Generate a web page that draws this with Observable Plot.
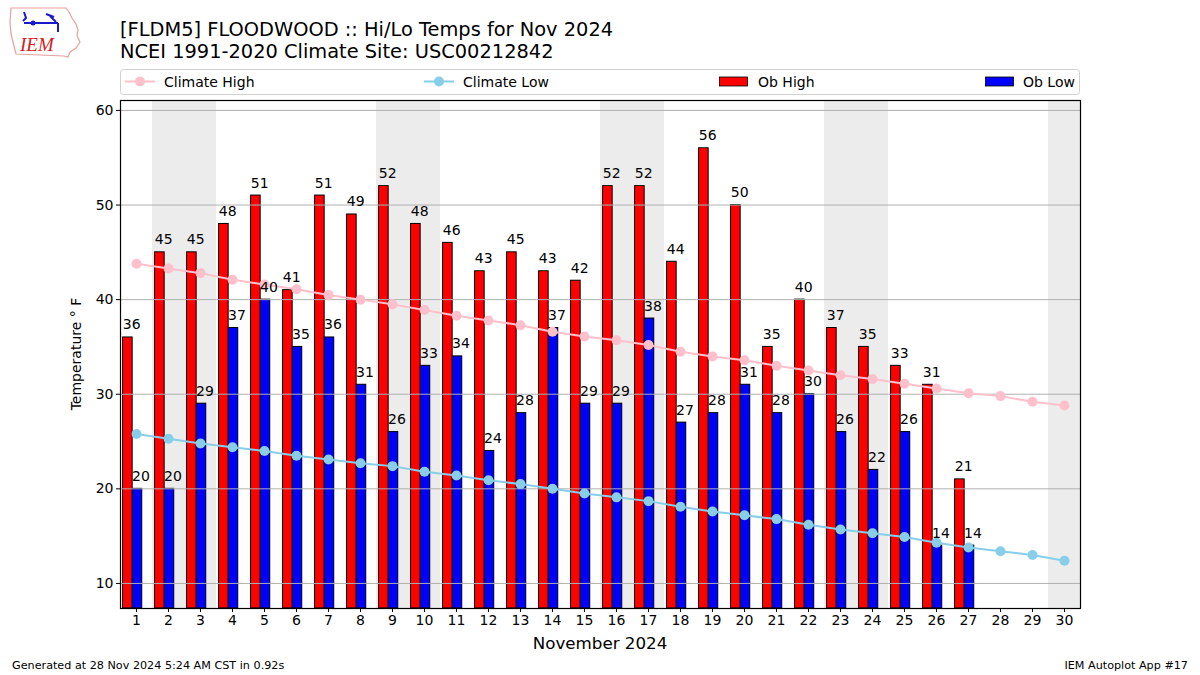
<!DOCTYPE html>
<html><head><meta charset="utf-8">
<script src="https://cdn.jsdelivr.net/npm/d3@7"></script>
<script src="https://cdn.jsdelivr.net/npm/@observablehq/plot@0.6"></script>
<style>
body{margin:0;background:#fff;font-family:"DejaVu Sans",sans-serif;}
#wrap{position:relative;width:1200px;height:675px;overflow:hidden;background:#fff}
#chart{position:absolute;left:0;top:0}
.t{position:absolute;white-space:nowrap;color:#000;font-family:"DejaVu Sans",sans-serif}
</style></head><body>
<div id="wrap">
<div id="chart"></div>
<svg class="t" style="left:6px;top:4px" width="80" height="56" viewBox="0 0 80 56">
  <path d="M5,4 L60,4 L63,8 L66,14 L70,20 L72,26 L71,32 L74,38 L70,44 L64,48 L62,53 L58,52 L10,50 L8,42 L5,30 L4,18 Z" fill="none" stroke="#e8a0a0" stroke-width="1.2"/>
  <g stroke="#1a1acc" stroke-width="2" fill="none">
    <path d="M18,19 L52,19"/>
    <path d="M44,12 L50,18"/>
    <path d="M52,19 L52,28"/>
    <path d="M18,8 L20,14 L17,17"/>
    <path d="M40,10 L48,13"/>
  </g>
  <circle cx="27" cy="19" r="2.5" fill="#1a1acc"/>
  <text x="14" y="47" font-family="Liberation Serif" font-style="italic" font-size="19" fill="#d42020">IEM</text>
</svg>
<div class="t" style="left:120px;top:19px;font-size:19.4px;line-height:21.5px">[FLDM5] FLOODWOOD :: Hi/Lo Temps for Nov 2024<br>NCEI 1991-2020 Climate Site: USC00212842</div>
<svg class="t" style="left:120px;top:69px" width="961" height="27">
  <rect x="0.5" y="0.5" width="959" height="25" rx="3" fill="#fff" stroke="#d0d0d0"/>
  <line x1="5" x2="35" y1="12.5" y2="12.5" stroke="pink" stroke-width="2"/>
  <circle cx="20" cy="12.5" r="5" fill="pink"/>
  <text x="44" y="17.5" font-size="14" fill="#000">Climate High</text>
  <line x1="304" x2="334" y1="12.5" y2="12.5" stroke="skyblue" stroke-width="2"/>
  <circle cx="319" cy="12.5" r="5" fill="skyblue"/>
  <text x="343" y="17.5" font-size="14" fill="#000">Climate Low</text>
  <rect x="599.5" y="8" width="28" height="9" fill="red" stroke="#000" stroke-width="0.8"/>
  <text x="638" y="17.5" font-size="14" fill="#000">Ob High</text>
  <rect x="865.5" y="8" width="28" height="9" fill="blue" stroke="#000" stroke-width="0.8"/>
  <text x="903" y="17.5" font-size="14" fill="#000">Ob Low</text>
</svg>
<div class="t" style="left:600px;top:633px;font-size:16.7px;transform:translateX(-50%)">November 2024</div>
<div class="t" style="left:76px;top:354px;font-size:14px;transform:translate(-50%,-50%) rotate(-90deg)">Temperature ° F</div>
<div class="t" style="left:12px;top:659px;font-size:11.2px">Generated at 28 Nov 2024 5:24 AM CST in 0.92s</div>
<div class="t" style="right:12px;top:659px;font-size:11.2px">IEM Autoplot App #17</div>
</div>
<script>
const days = [1,2,3,4,5,6,7,8,9,10,11,12,13,14,15,16,17,18,19,20,21,22,23,24,25,26,27,28,29,30];
const obDays = [1,2,3,4,5,6,7,8,9,10,11,12,13,14,15,16,17,18,19,20,21,22,23,24,25,26,27];
const obHigh = [36,45,45,48,51,41,51,49,52,48,46,43,45,43,42,52,52,44,56,50,35,40,37,35,33,31,21];
const obLow  = [20,20,29,37,40,35,36,31,26,33,34,24,28,37,29,29,38,27,28,31,28,30,26,22,26,14,14];
const climHigh = [43.8,43.3,42.8,42.1,41.6,41.1,40.5,40.0,39.5,38.9,38.3,37.8,37.3,36.6,36.1,35.7,35.2,34.5,34.0,33.6,33.0,32.5,32.0,31.6,31.1,30.6,30.1,29.8,29.2,28.8];
const climLow  = [25.8,25.3,24.8,24.4,24.0,23.5,23.1,22.7,22.4,21.8,21.4,20.9,20.5,20.0,19.5,19.1,18.7,18.1,17.6,17.2,16.8,16.2,15.7,15.3,14.9,14.3,13.8,13.4,13.0,12.4];
const weekendDays = [2,3,9,10,16,17,23,24,30];
const yTicks = [10,20,30,40,50,60];
const yDomain = [7.35, 61.05];

const obs = obDays.map((d,i)=>({day:d, high:obHigh[i], low:obLow[i]}));
const clim = days.map((d,i)=>({day:d, high:climHigh[i], low:climLow[i]}));

const chart = Plot.plot({
  width:1200, height:675,
  marginLeft:120, marginRight:120, marginTop:100, marginBottom:67,
  style:{fontFamily:"DejaVu Sans", background:"transparent", color:"#000"},
  x:{domain:[0.5,30.5], axis:null},
  y:{domain:yDomain, axis:null},
  marks:[
    Plot.rect(weekendDays, {x1:d=>d-0.5, x2:d=>d+0.5, y1:yDomain[0], y2:yDomain[1], fill:"#ececec"}),
    Plot.rect(obs, {x1:d=>d.day-0.42, x2:d=>d.day-0.12, y1:yDomain[0], y2:"high", fill:"red", stroke:"black", strokeWidth:1}),
    Plot.rect(obs, {x1:d=>d.day-0.12, x2:d=>d.day+0.18, y1:yDomain[0], y2:"low", fill:"blue", stroke:"black", strokeWidth:1}),
    Plot.ruleY(yTicks, {stroke:"#b0b0b0", strokeWidth:1}),
    Plot.line(clim, {x:"day", y:"high", stroke:"pink", strokeWidth:2}),
    Plot.dot(clim, {x:"day", y:"high", fill:"pink", r:5}),
    Plot.line(clim, {x:"day", y:"low", stroke:"skyblue", strokeWidth:2}),
    Plot.dot(clim, {x:"day", y:"low", fill:"skyblue", r:5}),
    Plot.text(obs, {x:d=>d.day-0.15, y:"high", text:d=>String(d.high), dy:-8, lineAnchor:"bottom", fontSize:14, fill:"black"}),
    Plot.text(obs, {x:d=>d.day+0.14, y:"low", text:d=>String(d.low), dy:-8, lineAnchor:"bottom", fontSize:14, fill:"black"}),
    Plot.axisX({ticks:days, tickFormat:d=>String(d), tickSize:4, tickPadding:3, fontSize:14, label:null}),
    Plot.axisY({ticks:yTicks, tickFormat:d=>String(d), tickSize:4, tickPadding:3, fontSize:14, label:null}),
    Plot.frame({stroke:"black", strokeWidth:1.2})
  ]
});
document.getElementById("chart").appendChild(chart);
</script>
</body></html>
